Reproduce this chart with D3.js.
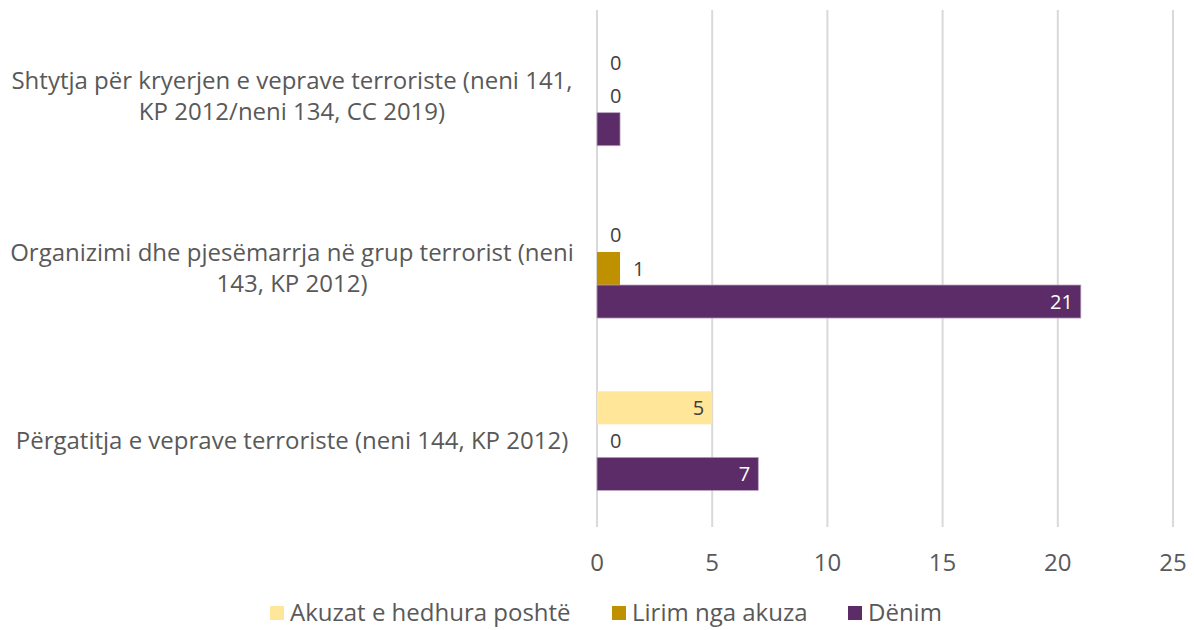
<!DOCTYPE html>
<html>
<head>
<meta charset="utf-8">
<script src="https://cdn.jsdelivr.net/npm/d3@7"></script>
<style>
  body { margin: 0; background: #fff; }
  text { font-family: "Open Sans", sans-serif; fill: #595959; }
</style>
</head>
<body>
<div id="chart"></div>
<script>
// data
var categories = [
    ["Shtytja për kryerjen e veprave terroriste (neni 141,", "KP 2012/neni 134, CC 2019)"],
    ["Organizimi dhe pjesëmarrja në grup terrorist (neni", "143, KP 2012)"],
    ["Përgatitja e veprave terroriste (neni 144, KP 2012)"]
];
var seriesNames = ["Akuzat e hedhura poshtë", "Lirim nga akuza", "Dënim"];
var seriesColors = ["#ffe699", "#bf9000", "#5b2c67"];
var akuzat = [0, 0, 5];
var lirim = [0, 1, 0];
var denim = [1, 21, 7];
var xTicks = [0, 5, 10, 15, 20, 25];

var svgWidth = 1194, svgHeight = 630;
var margin = {top: 10, bottom: 103, left: 597, right: 21};

var svg = d3.select("#chart").append("svg")
    .attr("width", svgWidth)
    .attr("height", svgHeight);

var xScale = d3.scaleLinear()
    .domain([0, 25])
    .range([margin.left, svgWidth - margin.right]);

var yScale = d3.scaleBand()
    .domain(d3.range(categories.length))
    .range([margin.top, svgHeight - margin.bottom])
    .paddingInner(0.425)
    .paddingOuter(0.2125);

var ySub = d3.scaleBand()
    .domain(d3.range(seriesNames.length))
    .range([0, yScale.bandwidth()]);

// gridlines
svg.append("g")
    .selectAll("line")
    .data(xTicks)
    .enter().append("line")
    .attr("x1", d => xScale(d)).attr("x2", d => xScale(d))
    .attr("y1", margin.top).attr("y2", svgHeight - margin.bottom)
    .attr("stroke", "#d9d9d9")
    .attr("stroke-width", 2);

// tick labels
svg.append("g")
    .selectAll("text")
    .data(xTicks)
    .enter().append("text")
    .attr("x", d => xScale(d))
    .attr("y", 563)
    .attr("dy", "0.35em")
    .attr("text-anchor", "middle")
    .style("font-size", "24px")
    .text(d => d);

// category labels
categories.forEach(function(lines, i) {
    var cy = yScale(i) + yScale.bandwidth() / 2;
    var lh = 31;
    lines.forEach(function(line, j) {
        svg.append("text")
            .attr("x", 292)
            .attr("y", cy + (j - (lines.length - 1) / 2) * lh)
            .attr("dy", "0.35em")
            .attr("text-anchor", "middle")
            .style("font-size", "24px")
            .text(line);
    });
});

// bars
var barData = [];
[akuzat, lirim, denim].forEach(function(vals, s) {
    vals.forEach(function(v, c) {
        barData.push({cat: c, series: s, value: v});
    });
});

svg.append("g")
    .selectAll("rect")
    .data(barData.filter(d => d.value > 0))
    .enter().append("rect")
    .attr("x", xScale(0))
    .attr("y", d => yScale(d.cat) + ySub(d.series))
    .attr("width", d => xScale(d.value) - xScale(0))
    .attr("height", ySub.bandwidth())
    .attr("fill", d => seriesColors[d.series])
    .attr("stroke", d => d.series == 2 ? "#b9a3bf" : "none")
    .attr("stroke-width", 0.75);

// data labels - inside end for the wide bars, outside otherwise
svg.append("g")
    .selectAll("text")
    .data(barData)
    .enter().append("text")
    .each(function(d) {
        var t = d3.select(this)
            .attr("y", yScale(d.cat) + ySub(d.series) + ySub.bandwidth() / 2)
            .attr("dy", "0.35em")
            .style("font-size", "20px");
        if (d.value >= 5) {
            t.attr("x", xScale(d.value) - 8)
             .attr("text-anchor", "end")
             .style("fill", d.series == 2 ? "#ffffff" : "#404040")
             .text(d.value);
        } else if (d.series == 2) {
            // too narrow, Excel drops it
            t.text("");
        } else {
            t.attr("x", xScale(d.value) + 13)
             .attr("text-anchor", "start")
             .style("fill", "#404040")
             .text(d.value);
        }
    });

// legend
var legendX = [270, 612, 848];
var legend = svg.append("g")
    .selectAll("g")
    .data(seriesNames)
    .enter().append("g")
    .attr("transform", (d, i) => "translate(" + legendX[i] + ",613)");

legend.append("rect")
    .attr("x", 0).attr("y", -7)
    .attr("width", 14).attr("height", 14)
    .attr("fill", (d, i) => seriesColors[i]);

legend.append("text")
    .attr("x", 20)
    .attr("dy", "0.35em")
    .style("font-size", "24px")
    .text(d => d);
</script>
</body>
</html>
